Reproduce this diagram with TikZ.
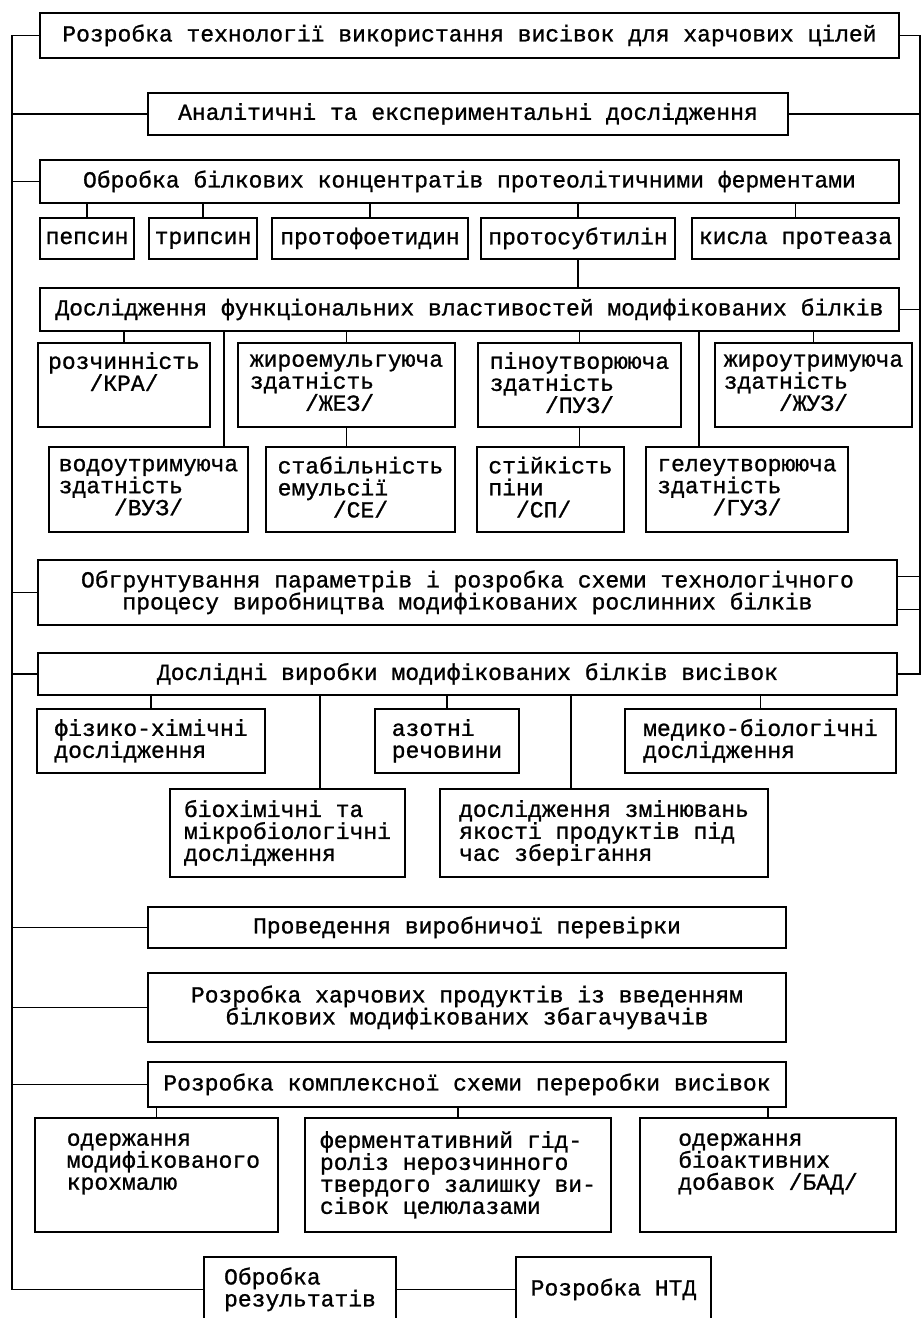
\documentclass[tikz,border=0pt]{standalone}
\usepackage{fontspec}
\setmonofont[FakeBold=1]{Liberation Mono}
\newcommand\gap[1]{\hspace*{#1\fontcharwd\font`M}}
\newcommand\boxfont{\ttfamily\fontsize{23}{22}\selectfont\lineskiplimit=-100pt}

\begin{document}
\begin{tikzpicture}[x=1pt, y=-1pt,
    box/.style={draw, line width=2.8pt, inner sep=0pt, align=center, font=\boxfont,
      execute at begin node={\rule{0pt}{16pt}}, execute at end node={\rule[-5pt]{0pt}{5pt}}},
    lbox/.style={box, align=left},
    link/.style={line width=1.8pt}]
  \useasboundingbox (0,0) rectangle (923,1318);
  \clip (0,0) rectangle (923,1318);

  \node[box, minimum width=859pt, minimum height=45pt] (devTech) at (469.5,35.5) {Розробка технології використання висівок для харчових цілей};
  \node[box, minimum width=640pt, minimum height=42pt] (analysis) at (468,114) {Аналітичні та експериментальні дослідження};
  \node[box, minimum width=859pt, minimum height=43pt] (enzymes) at (469.5,181.5) {Обробка білкових концентратів протеолітичними ферментами};

  \node[box, minimum width=94pt, minimum height=41pt] (pepsin) at (87,238.5) {пепсин};
  \node[box, minimum width=108pt, minimum height=41pt] (trypsin) at (203,238.5) {трипсин};
  \node[box, minimum width=196pt, minimum height=41pt] (protofoetidin) at (370,238.5) {протофоетидин};
  \node[box, minimum width=194pt, minimum height=41pt] (protosubtilin) at (578,238.5) {протосубтилін};
  \node[box, minimum width=207pt, minimum height=41pt] (acidProtease) at (795.5,238.5) {кисла протеаза};

  \node[box, minimum width=859pt, minimum height=43pt] (funcProps) at (469.5,309.5) {Дослідження функціональних властивостей модифікованих білків};

  \node[lbox, minimum width=172pt, minimum height=84pt] (solubility) at (124,385) {розчинність\\\gap3/КРА/\\\mbox{}};
  \node[lbox, minimum width=217pt, minimum height=84pt] (fatEmuls) at (346.5,385) {жироемульгуюча\\здатність\\\gap4/ЖЕЗ/};
  \node[lbox, minimum width=203pt, minimum height=84pt] (foaming) at (579.5,385) {піноутворююча\\здатність\\\gap4/ПУЗ/};
  \node[lbox, minimum width=197pt, minimum height=84pt] (fatHolding) at (813.5,385) {жироутримуюча\\здатність\\\gap4/ЖУЗ/};

  \node[lbox, minimum width=199pt, minimum height=85pt] (waterHolding) at (148.5,489.5) {водоутримуюча\\здатність\\\gap4/ВУЗ/};
  \node[lbox, minimum width=189pt, minimum height=85pt] (emulsStab) at (360.5,489.5) {стабільність\\емульсії\\\gap4/СЕ/};
  \node[lbox, minimum width=147pt, minimum height=85pt] (foamStab) at (550.5,489.5) {стійкість\\піни\\\gap2/СП/};
  \node[lbox, minimum width=202pt, minimum height=85pt] (gelForming) at (747,489.5) {гелеутворююча\\здатність\\\gap4/ГУЗ/};

  \node[box, minimum width=859pt, minimum height=65pt] (techScheme) at (467.5,592.5) {Обгрунтування параметрів і розробка схеми технологічного\\процесу виробництва модифікованих рослинних білків};
  \node[box, minimum width=859pt, minimum height=42pt] (trialProducts) at (467.5,674) {Дослідні виробки модифікованих білків висівок};

  \node[lbox, minimum width=228pt, minimum height=64pt] (physChem) at (151,741) {фізико-хімічні\\дослідження};
  \node[lbox, minimum width=144pt, minimum height=64pt] (nitrogen) at (447,741) {азотні\\речовини};
  \node[lbox, minimum width=271pt, minimum height=64pt] (medBio) at (760.5,741) {медико-біологічні\\дослідження};
  \node[lbox, minimum width=235pt, minimum height=88pt] (biochem) at (287.5,833) {біохімічні та\\мікробіологічні\\дослідження};
  \node[lbox, minimum width=328pt, minimum height=88pt] (storage) at (604,833) {дослідження змінювань\\якості продуктів під\\час зберігання};

  \node[box, minimum width=638pt, minimum height=41pt] (prodCheck) at (467,927.5) {Проведення виробничої перевірки};
  \node[box, minimum width=638pt, minimum height=69pt] (foodDev) at (467,1007.5) {Розробка харчових продуктів із введенням\\білкових модифікованих збагачувачів};
  \node[box, minimum width=638pt, minimum height=45pt] (complexScheme) at (467,1084.5) {Розробка комплексної схеми переробки висівок};

  \node[lbox, minimum width=243pt, minimum height=114pt] (starch) at (156.5,1175) {\gap1одержання\\\gap1модифікованого\\\gap1крохмалю\\\mbox{}};
  \node[lbox, minimum width=306pt, minimum height=114pt] (hydrolysis) at (458,1175) {ферментативний гід-\\роліз нерозчинного\\твердого залишку ви-\\сівок целюлазами};
  \node[lbox, minimum width=256pt, minimum height=114pt] (bioAdd) at (768,1175) {одержання\\біоактивних\\добавок /БАД/\\\mbox{}};

  \node[lbox, minimum width=192pt, minimum height=65pt] (results) at (300,1289.5) {Обробка\\результатів};
  \node[box, minimum width=195pt, minimum height=65pt] (ntd) at (613.5,1289.5) {Розробка НТД};

  \coordinate (leftTop) at (12,35.5);
  \coordinate (rightTop) at (920,35.5);
  \draw[link] (devTech.west) -- (devTech.west -| leftTop) -- (results.west -| leftTop) -- (results.west);
  \foreach \n in {analysis, enzymes, techScheme, trialProducts, prodCheck, foodDev, complexScheme}
    \draw[link] (\n.west) -- (\n.west -| leftTop);
  \draw[link] (devTech.east) -- (devTech.east -| rightTop) -- (trialProducts.east -| rightTop) -- (trialProducts.east);
  \foreach \n in {analysis, funcProps}
    \draw[link] (\n.east) -- (\n.east -| rightTop);
  \coordinate (schemeUp) at ([yshift=16pt]techScheme.east);
  \coordinate (schemeDown) at ([yshift=-17pt]techScheme.east);
  \draw[link] (schemeUp) -- (schemeUp -| rightTop);
  \draw[link] (schemeDown) -- (schemeDown -| rightTop);

  \foreach \n in {pepsin, trypsin, protofoetidin, protosubtilin, acidProtease}
    \draw[link] (\n) -- (\n |- enzymes.south);
  \draw[link] (protosubtilin) -- (protosubtilin |- funcProps.north);
  \foreach \n in {solubility, fatEmuls, foaming, fatHolding}
    \draw[link] (\n) -- (\n |- funcProps.south);
  \coordinate (waterDrop) at (224,0);
  \coordinate (gelDrop) at (699,0);
  \draw[link] (funcProps.south -| waterDrop) -- (waterHolding.north -| waterDrop);
  \draw[link] (funcProps.south -| gelDrop) -- (gelForming.north -| gelDrop);
  \draw[link] (fatEmuls) -- (fatEmuls |- emulsStab.north);
  \draw[link] (foaming) -- (foaming |- foamStab.north);

  \foreach \n in {physChem, nitrogen, medBio}
    \draw[link] (\n) -- (\n |- trialProducts.south);
  \coordinate (bioDrop) at (320,0);
  \coordinate (storeDrop) at (571,0);
  \draw[link] (trialProducts.south -| bioDrop) -- (biochem.north -| bioDrop);
  \draw[link] (trialProducts.south -| storeDrop) -- (storage.north -| storeDrop);

  \foreach \n in {starch, hydrolysis, bioAdd}
    \draw[link] (\n) -- (\n |- complexScheme.south);
  \draw[link] (results) -- (ntd);
\end{tikzpicture}
\end{document}
